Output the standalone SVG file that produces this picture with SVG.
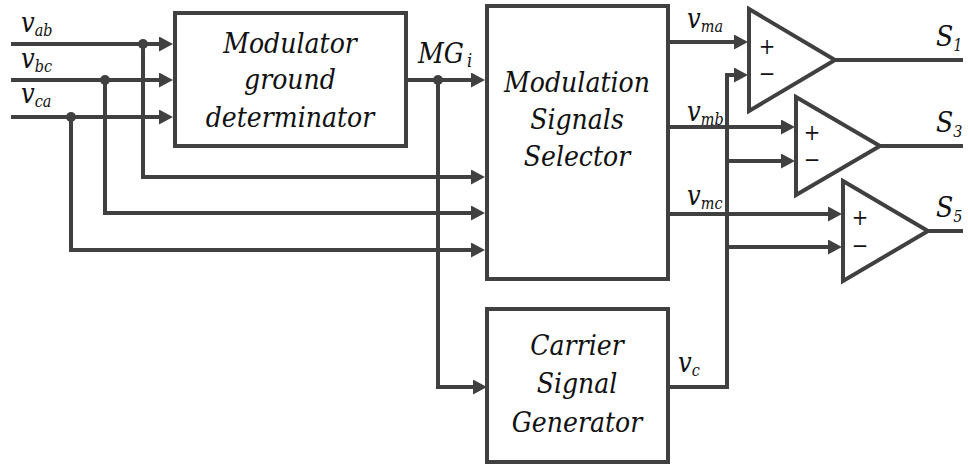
<svg xmlns="http://www.w3.org/2000/svg" width="968" height="464" viewBox="0 0 968 464">
<defs>
<marker id="arr" markerUnits="userSpaceOnUse" viewBox="0 0 14 15" markerWidth="14" markerHeight="15" refX="9" refY="7.5" orient="auto">
<path d="M0,0 L14,7.5 L0,15 Z" fill="#404040"/>
</marker>
<style>
.box{fill:#fff;stroke:#404040;stroke-width:4}
.w{fill:none;stroke:#404040;stroke-width:4}
.a{marker-end:url(#arr)}
.dot{fill:#404040}
.t{font-style:italic;fill:#111}
.big{font-size:28px}
.lab{font-size:27px}
.sub{font-size:16px}
.sign{font-size:22px;fill:#111;text-anchor:middle;font-stretch:normal}
.c{text-anchor:middle}
</style>
</defs>
<rect width="968" height="464" fill="#fff"/>

<g id="connectors">
<path class="w a" d="M11,44 H168"/>
<path class="w a" d="M11,80 H168"/>
<path class="w a" d="M11,117 H168"/>
<path class="w a" d="M143,44 V177 H480"/>
<path class="w a" d="M105,80 V213 H480"/>
<path class="w a" d="M71,117 V250 H480"/>
<path class="w a" d="M406,80 H480"/>
<path class="w a" d="M438,80 V387 H482"/>
<path class="w a" d="M668,42 H743"/>
<path class="w a" d="M668,127 H790"/>
<path class="w a" d="M668,214 H837"/>
<path class="w a" d="M668,387 H727 V75 H743"/>
<path class="w a" d="M727,161 H790"/>
<path class="w a" d="M727,247 H837"/>
<path class="w" d="M835,60 H963"/>
<path class="w" d="M880,146 H963"/>
<path class="w" d="M928,231 H963"/>
<circle class="dot" cx="143" cy="44" r="5"/>
<circle class="dot" cx="105" cy="80" r="5"/>
<circle class="dot" cx="71" cy="117" r="5"/>
<circle class="dot" cx="438" cy="80" r="5"/>
</g>

<g font-family="'DejaVu Serif Condensed', 'DejaVu Serif', serif" font-stretch="condensed">
<g id="inputs">
<text class="t lab" x="21" y="32">v<tspan class="sub" dy="4">ab</tspan></text>
<text class="t lab" x="21" y="68">v<tspan class="sub" dy="4">bc</tspan></text>
<text class="t lab" x="21" y="103">v<tspan class="sub" dy="4">ca</tspan></text>
</g>

<g id="modulator-ground">
<rect class="box" x="175" y="13" width="231" height="133"/>
<text class="t big c" x="290" y="53">Modulator</text>
<text class="t big c" x="290" y="89">ground</text>
<text class="t big c" x="290" y="127">determinator</text>
</g>

<g id="mgi-label">
<text class="t" x="418" y="63" font-size="28">MG<tspan font-size="18" dx="3" dy="4">i</tspan></text>
</g>

<g id="selector">
<rect class="box" x="487" y="6" width="181" height="273"/>
<text class="t big c" x="577" y="92">Modulation</text>
<text class="t big c" x="577" y="129">Signals</text>
<text class="t big c" x="577" y="166">Selector</text>
</g>

<g id="carrier">
<rect class="box" x="487" y="309" width="181" height="153"/>
<text class="t big c" x="577" y="355">Carrier</text>
<text class="t big c" x="577" y="393">Signal</text>
<text class="t big c" x="577" y="432">Generator</text>
</g>

<g id="signal-labels">
<text class="t lab" x="687" y="28">v<tspan class="sub" dy="4">ma</tspan></text>
<text class="t lab" x="687" y="121">v<tspan class="sub" dy="4">mb</tspan></text>
<text class="t lab" x="687" y="205">v<tspan class="sub" dy="4">mc</tspan></text>
<text class="t lab" x="678" y="372">v<tspan class="sub" dy="4">c</tspan></text>
</g>

<g id="comparator1">
<path class="w" d="M749,9 L835,60 L749,111 Z"/>
<text class="sign" x="767" y="54">+</text>
<text class="sign" x="767" y="81">−</text>
<text class="t big" x="936" y="46">S<tspan class="sub" dy="5">1</tspan></text>
</g>

<g id="comparator2">
<path class="w" d="M796,97 L880,146 L796,195 Z"/>
<text class="sign" x="812" y="140">+</text>
<text class="sign" x="812" y="167">−</text>
<text class="t big" x="936" y="132">S<tspan class="sub" dy="5">3</tspan></text>
</g>

<g id="comparator3">
<path class="w" d="M843,181 L928,231 L843,281 Z"/>
<text class="sign" x="860" y="225">+</text>
<text class="sign" x="860" y="253">−</text>
<text class="t big" x="936" y="217">S<tspan class="sub" dy="5">5</tspan></text>
</g>
</g>
</svg>
